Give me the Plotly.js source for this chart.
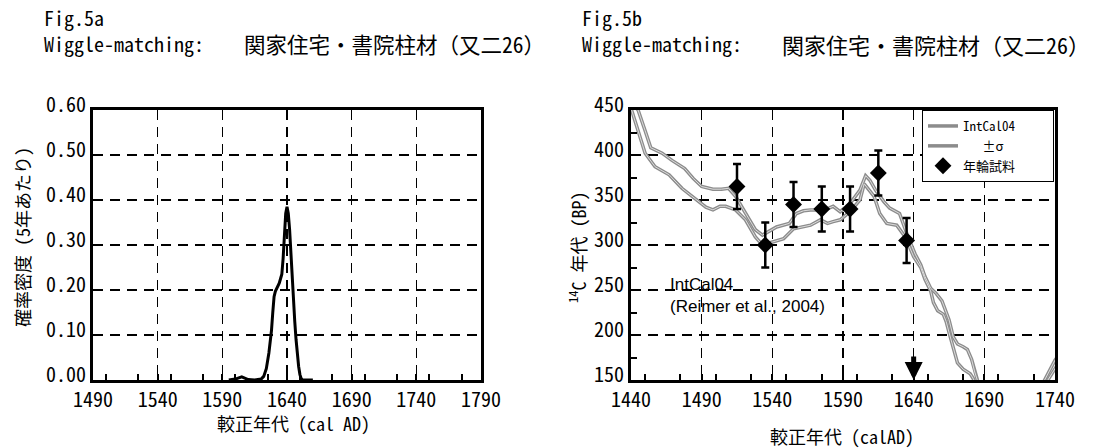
<!DOCTYPE html>
<html>
<head>
<meta charset="utf-8">
<script src="https://cdn.plot.ly/plotly-3.0.1.min.js"></script>
<style>
html,body{margin:0;padding:0;background:#fff;}
#chart{width:1098px;height:448px;}
</style>
</head>
<body>
<div id="chart"></div>
<script>
// ---- Fig.5a : probability density ----
const densityYears = [1595,1600,1605,1610,1615,1620,1622,1624,1626,1627,1628,1629,1630,1631,1632,1633,1634,1635,1636,1637,1638,1639,1640,1641,1642,1643,1644,1645,1646,1647,1648,1649,1650,1651,1652,1660];
const densityValues = [0,0.002,0.007,0.001,0,0.002,0.008,0.025,0.06,0.085,0.11,0.15,0.185,0.197,0.203,0.207,0.215,0.225,0.235,0.27,0.32,0.37,0.385,0.37,0.335,0.28,0.22,0.17,0.13,0.09,0.055,0.03,0.012,0.003,0,0];

// ---- Fig.5b : IntCal04 band and tree-ring samples ----
const calUpperYears = [1442,1445,1450,1454,1462,1469,1478,1484,1490,1498,1504,1509,1514,1521,1528,1533,1540,1543,1552,1557,1562,1567,1574,1580,1583,1588,1595,1602,1606,1609,1613,1619,1623,1630,1636,1641,1645,1648,1652,1656,1660,1663,1665,1668,1671,1675,1678,1681,1683,1686,1700,1731,1736,1740,1743];
const calUpperBP = [455,450,427,408,402,394,385,374,365,362,362,363,354,335,317,311,317,320,324,335,338,339,339,341,343,337,346,361,377,372,361,348,341,335,309,290,278,265,252,246,238,226,217,198,190,187,184,173,160,145,null,145,160,172,178];
const calLowerYears = [1440,1445,1450,1457,1467,1476,1487,1493,1498,1503,1507,1514,1521,1528,1533,1541,1548,1555,1560,1567,1574,1579,1583,1588,1595,1602,1605,1612,1616,1621,1628,1634,1640,1645,1648,1652,1654,1657,1661,1663,1665,1668,1671,1675,1680,1682,1684,1700,1733,1737,1740,1743];
const calLowerBP = [452,428,402,387,378,363,350,342,339,343,343,339,328,309,300,304,307,318,320,322,328,324,326,328,337,350,368,354,335,324,322,309,287,275,262,249,236,227,223,215,203,185,169,162,157,152,145,null,145,155,162,170];

const sampleYears = [1515,1535,1555,1575,1595,1615,1635];
const sampleBP = [365,300,345,340,340,380,305];
const sampleErr = [25,25,25,25,25,25,25];
const matchYear = 1640;

// ---- tick labels / texts ----
const figTitles = ['Fig.5a','Fig.5b'];
const subtitleLead = 'Wiggle-matching:';
const subtitleName = '関家住宅・書院柱材（又二26）';
const xTitles = ['較正年代 (cal AD)','較正年代 (calAD)'];
const yTitles = ['確率密度 (5年あたり)','<sup>14</sup>C 年代 (BP)'];
const NB = '\u00a0';
const legendNames = ['IntCal04' + NB.repeat(5), NB.repeat(3) + '±σ' + NB.repeat(5), '年輪試料' + NB.repeat(5)];
const refNote = 'IntCal04<br>(Reimer et al., 2004)';

const MONO = "'Noto Sans Mono CJK JP','Noto Sans CJK JP','DejaVu Sans Mono',monospace";
const W = 1098, H = 448;
const px = v => v / W;
const py = v => 1 - v / H;

const gridStyle = {showgrid:true, gridcolor:'#000', gridwidth:1.3, griddash:'10px,7px', zeroline:false,
  showline:true, linewidth:3, linecolor:'#000', mirror:true,
  ticks:'inside', ticklen:6, tickwidth:2, tickcolor:'#000',
  tickfont:{family:MONO, size:20, color:'#000'}, fixedrange:true};
const minor25 = {dtick:25, ticks:'inside', ticklen:6, tickwidth:2, tickcolor:'#000', showgrid:false};

const yDom = [1 - 380/H, 1 - 110/H];

const traces = [
  {x:densityYears, y:densityValues, xaxis:'x', yaxis:'y', mode:'lines',
   line:{color:'#000', width:3}, showlegend:false, hoverinfo:'skip'},
  {x:calUpperYears, y:calUpperBP, xaxis:'x2', yaxis:'y2', mode:'lines', name:legendNames[0],
   line:{color:'#8c8c8c', width:3.5}, connectgaps:false},
  {x:calLowerYears, y:calLowerBP, xaxis:'x2', yaxis:'y2', mode:'lines', name:legendNames[1],
   line:{color:'#8c8c8c', width:3.5}, connectgaps:false},
  {x:calUpperYears, y:calUpperBP, xaxis:'x2', yaxis:'y2', mode:'lines', showlegend:false,
   line:{color:'#dcdcdc', width:1}, connectgaps:false},
  {x:calLowerYears, y:calLowerBP, xaxis:'x2', yaxis:'y2', mode:'lines', showlegend:false,
   line:{color:'#dcdcdc', width:1}, connectgaps:false},
  {x:sampleYears, y:sampleBP, xaxis:'x2', yaxis:'y2', mode:'markers', name:legendNames[2],
   marker:{symbol:'diamond', size:13, color:'#000'},
   error_y:{type:'data', array:sampleErr, visible:true, color:'#000', thickness:2.5, width:4}}
];

const ann = [];
function txt(text, x, y, size, opts) {
  ann.push(Object.assign({text:text, xref:'paper', yref:'paper', x:px(x), y:py(y), showarrow:false,
    xanchor:'left', yanchor:'middle', font:{family:MONO, size:size, color:'#000'}}, opts || {}));
}
txt(figTitles[0], 42, 18, 20);
txt(subtitleLead, 42, 44, 20);
txt(subtitleName, 242, 44, 21.5);
txt(figTitles[1], 580, 18, 20);
txt(subtitleLead, 580, 44, 20);
txt(subtitleName, 780, 44, 22);
txt(xTitles[0], 293, 423, 18, {xanchor:'center'});
txt(xTitles[1], 842, 436, 18, {xanchor:'center'});
txt(yTitles[0], 22, 237, 18, {xanchor:'center', textangle:-90});
txt(yTitles[1], 577, 247, 18, {xanchor:'center', textangle:-90});

ann.push({text:refNote, xref:'x2', yref:'y2', x:1466, y:269, xanchor:'left', yanchor:'top', align:'left',
  showarrow:false, font:{family:"'Liberation Sans',Arial,sans-serif", size:17, color:'#000'}});
ann.push({text:'', font:{size:1}, xref:'x2', yref:'y2', x:matchYear, y:150, showarrow:true, ax:0, ay:-25,
  arrowhead:2, arrowsize:0.72, arrowwidth:5, arrowcolor:'#000', standoff:0});

const layout = {
  width:W, height:H, margin:{l:0, r:0, t:0, b:0}, paper_bgcolor:'#fff', plot_bgcolor:'#fff',
  font:{family:MONO, color:'#000'},
  xaxis:Object.assign({}, gridStyle, {domain:[px(93), px(481)], range:[1490,1790], tick0:1490, dtick:50, anchor:'y', minor:minor25}),
  yaxis:Object.assign({}, gridStyle, {domain:yDom, range:[0,0.6], dtick:0.1, tickformat:'.2f', anchor:'x', ticklabelshift:-5}),
  xaxis2:Object.assign({}, gridStyle, {domain:[px(631), px(1055)], range:[1440,1740], tick0:1440, dtick:50, anchor:'y2', minor:minor25}),
  yaxis2:Object.assign({}, gridStyle, {domain:yDom, range:[150,450], dtick:50, anchor:'x2', minor:minor25, ticklabelshift:-5}),
  legend:{x:px(1054), xanchor:'right', y:yDom[1], yanchor:'top', bgcolor:'#fff', bordercolor:'#000', borderwidth:1,
    font:{family:MONO, size:13, color:'#000'}, tracegroupgap:0},
  annotations:ann,
  showlegend:true
};

Plotly.newPlot('chart', traces, layout, {staticPlot:true, displayModeBar:false});
</script>
</body>
</html>
